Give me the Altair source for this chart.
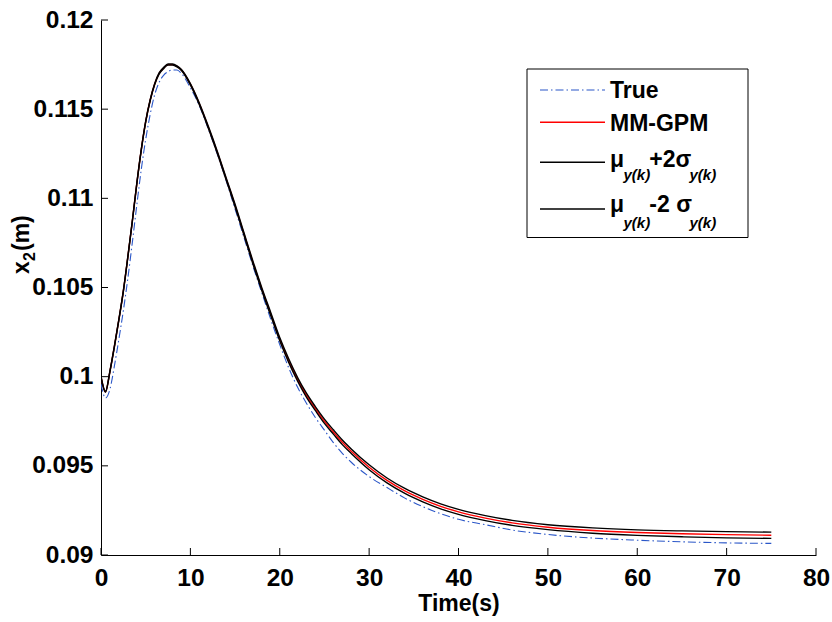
import altair as alt
import pandas as pd

# ---- data ----
time_s = [0, 0.5, 1, 1.5, 2, 2.5, 3, 3.5, 4, 4.5, 5, 5.5, 6, 6.5, 7, 7.5, 8, 8.5, 9,
          10, 11, 12, 13, 14, 15, 16, 17, 18, 19, 20, 21, 22, 23, 24, 25, 26, 27, 28,
          30, 32, 34, 36, 38, 40, 43, 46, 50, 55, 60, 65, 70, 75]

true_x2 = [0.0996, 0.0988, 0.0993, 0.1006, 0.1021, 0.1037, 0.1055, 0.1075, 0.1096, 0.1116,
           0.1133, 0.1147, 0.1158, 0.1165, 0.1169, 0.1171, 0.1172, 0.1172, 0.1170,
           0.1162, 0.1152, 0.1139, 0.1125, 0.1110, 0.1094, 0.1078, 0.1062, 0.1047, 0.1032,
           0.1018, 0.1005, 0.0994, 0.0985, 0.0977, 0.0970, 0.0963, 0.0957, 0.0952,
           0.0944, 0.09378, 0.09319, 0.09271, 0.09232, 0.0920, 0.0917, 0.0914, 0.09115,
           0.09095, 0.09083, 0.09074, 0.09068, 0.09065]

mm_gpm = [0.10000, 0.09915, 0.10030, 0.10170, 0.10320, 0.10480, 0.10670, 0.10870, 0.11080,
          0.11270, 0.11430, 0.11550, 0.11640, 0.11700, 0.11730, 0.11750, 0.11750, 0.11740,
          0.11720, 0.11640, 0.11530, 0.11400, 0.11260, 0.11110, 0.10960, 0.10800, 0.10640,
          0.10490, 0.10350, 0.10210, 0.10090, 0.09985, 0.09895, 0.09820, 0.09750, 0.09690,
          0.09632, 0.09582, 0.09492, 0.09418, 0.09359, 0.09312, 0.09273, 0.09242, 0.09207,
          0.09180, 0.09156, 0.09137, 0.09126, 0.09119, 0.09114, 0.09111]

upper_2s = [0.10003, 0.09918, 0.10033, 0.10173, 0.10323, 0.10483, 0.10673, 0.10873, 0.11083,
            0.11273, 0.11433, 0.11553, 0.11643, 0.11703, 0.11733, 0.11753, 0.11753, 0.11743,
            0.11723, 0.11644, 0.11535, 0.11405, 0.11266, 0.11116, 0.10967, 0.10807, 0.10648,
            0.10498, 0.10359, 0.10219, 0.10100, 0.09995, 0.09906, 0.09831, 0.09762, 0.09702,
            0.09645, 0.09595, 0.09506, 0.09432, 0.09373, 0.09326, 0.09287, 0.09256, 0.09221,
            0.09194, 0.09170, 0.09152, 0.09141, 0.09135, 0.09131, 0.09128]

lower_2s = [0.09997, 0.09912, 0.10027, 0.10167, 0.10317, 0.10477, 0.10667, 0.10867, 0.11077,
            0.11267, 0.11427, 0.11547, 0.11637, 0.11697, 0.11727, 0.11747, 0.11747, 0.11737,
            0.11717, 0.11636, 0.11525, 0.11395, 0.11254, 0.11104, 0.10953, 0.10793, 0.10632,
            0.10482, 0.10341, 0.10201, 0.10080, 0.09975, 0.09884, 0.09809, 0.09738, 0.09678,
            0.09619, 0.09569, 0.09478, 0.09404, 0.09345, 0.09298, 0.09259, 0.09228, 0.09193,
            0.09166, 0.09142, 0.09122, 0.09110, 0.09102, 0.09096, 0.09093]

x_ticks = [0, 10, 20, 30, 40, 50, 60, 70, 80]
y_ticks = [0.09, 0.095, 0.1, 0.105, 0.11, 0.115, 0.12]

# ---- layout ----
W, H = 715, 535
PAD = {"left": 101, "top": 20, "right": 16, "bottom": 67}
FONT = "Liberation Sans"

xs = alt.Scale(domain=[0, 80], nice=False, zero=False)
ys = alt.Scale(domain=[0.09, 0.12], nice=False, zero=False)

def series_df(vals):
    return pd.DataFrame({"t": time_s, "v": vals})

def line(vals, color, width, dash=None):
    kw = dict(color=color, strokeWidth=width, interpolate="monotone", clip=True)
    if dash:
        kw["strokeDash"] = dash
    return alt.Chart(series_df(vals)).mark_line(**kw).encode(
        x=alt.X("t:Q", scale=xs),
        y=alt.Y("v:Q", scale=ys),
    )

base_axes = alt.Chart(series_df(mm_gpm)).mark_line(opacity=0).encode(
    x=alt.X("t:Q", scale=xs,
            axis=alt.Axis(values=x_ticks, title="Time(s)", format="d",
                          labelBaseline="alphabetic", labelPadding=30,
                          titleY=55, titleBaseline="alphabetic")),
    y=alt.Y("v:Q", scale=ys,
            axis=alt.Axis(values=y_ticks, title="", format=".3~f", labelPadding=8)),
)

true_line = line(true_x2, "#2b57c8", 1.1, [8, 3, 1.5, 3])
red_line = line(mm_gpm, "#ff0000", 1.4)
up_line = line(upper_2s, "#000000", 1.4)
lo_line = line(lower_2s, "#000000", 1.4)

xtick_rules = alt.Chart(pd.DataFrame({"t": x_ticks})).mark_rule(color="#000", strokeWidth=1).encode(
    x=alt.X("t:Q", scale=xs), y=alt.value(H), y2=alt.value(H - 7))
ytick_rules = alt.Chart(pd.DataFrame({"v": y_ticks})).mark_rule(color="#000", strokeWidth=1).encode(
    y=alt.Y("v:Q", scale=ys), x=alt.value(0), x2=alt.value(7))

one = pd.DataFrame({"a": [0]})

def txt(s, x, y, size=23, italic=False, angle=0):
    kw = dict(text=s, align="left", baseline="alphabetic", font=FONT,
              fontSize=size, fontWeight="bold",
              fontStyle="italic" if italic else "normal", color="black")
    if angle:
        kw["angle"] = angle
    return alt.Chart(one).mark_text(**kw).encode(x=alt.value(x), y=alt.value(y))

# y axis title x_2(m), rotated, with a real subscript
ytitle_layers = [
    txt("x", -72, 254, 23, angle=270),
    txt("2", -66, 241, 16, angle=270),
    txt("(m)", -72, 231, 23, angle=270),
]

# legend (drawn by hand so that subscripts can be shown)
legend_box = alt.Chart(one).mark_rect(fill="white", stroke="black", strokeWidth=1).encode(
    x=alt.value(426), x2=alt.value(647), y=alt.value(49), y2=alt.value(217.5))

def leg_line(y, color, dash=None, width=1.4):
    kw = dict(color=color, strokeWidth=width)
    if dash:
        kw["strokeDash"] = dash
    return alt.Chart(one).mark_rule(**kw).encode(
        x=alt.value(439), x2=alt.value(504), y=alt.value(y))

legend_layers = [
    legend_box,
    leg_line(70, "#2b57c8", [8, 3, 1.5, 3], 1.1),
    leg_line(102.3, "#ff0000"),
    leg_line(142.3, "#000000"),
    leg_line(189, "#000000"),
    txt("True", 509, 78.3),
    txt("MM-GPM", 509, 110.6),
    txt("μ", 509, 146.7),
    txt("y(k)", 522.5, 160, 15, True),
    txt("+2σ", 548.3, 146.7),
    txt("y(k)", 588.5, 160, 15, True),
    txt("μ", 509, 191.7),
    txt("y(k)", 522.5, 208.3, 15, True),
    txt("-2 σ", 548.3, 191.7),
    txt("y(k)", 588.5, 208.3, 15, True),
]

chart = alt.layer(
    base_axes, true_line, red_line, up_line, lo_line, xtick_rules, ytick_rules,
    *ytitle_layers, *legend_layers
).properties(
    width=W, height=H, padding=PAD, autosize=alt.AutoSizeParams(type="none"),
    background="white",
).configure_view(stroke=None).configure_axis(
    grid=False, ticks=False, tickSize=0, domainColor="black", domainWidth=1,
    labelFont=FONT, labelFontSize=24.5, labelFontWeight="bold", labelColor="black",
    titleFont=FONT, titleFontSize=23, titleFontWeight="bold", titleColor="black",
    labelOverlap=False, labelFlush=False,
)

chart.save("out.html", embed_options={"renderer": "svg", "actions": False})
